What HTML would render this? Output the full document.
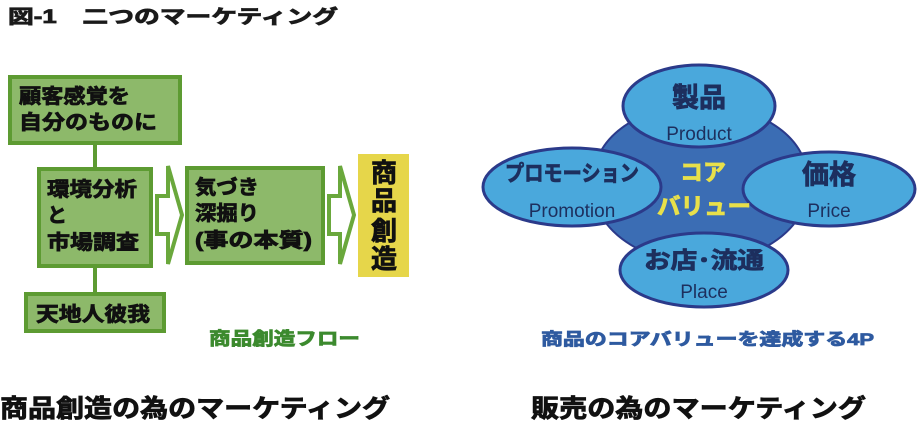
<!DOCTYPE html>
<html><head><meta charset="utf-8"><style>
html,body{margin:0;padding:0;background:#fff;}
svg{display:block;}
text{font-family:"Liberation Sans","Noto Sans CJK JP",sans-serif;font-weight:bold;}
.th{stroke:currentColor;stroke-width:0.8;}
</style></head><body>
<svg width="918" height="422" viewBox="0 0 918 422" xmlns="http://www.w3.org/2000/svg">
<text class="th" x="8" y="23" font-size="19" fill="#1a1a1a" style="color:#1a1a1a" textLength="330" lengthAdjust="spacingAndGlyphs">図-1　二つのマーケティング</text>

<line x1="95" y1="143" x2="95" y2="296" stroke="#5d9b32" stroke-width="4"/>
<rect x="10" y="77" width="170" height="66" fill="#8db96a" stroke="#5d9b32" stroke-width="4"/>
<g class="th" style="color:#111" fill="#111">
<text x="19" y="103" font-size="20" textLength="111" lengthAdjust="spacingAndGlyphs">顧客感覚を</text>
<text x="19" y="129" font-size="20" textLength="138" lengthAdjust="spacingAndGlyphs">自分のものに</text>
</g>

<rect x="39" y="169" width="112" height="97" fill="#8db96a" stroke="#5d9b32" stroke-width="4"/>
<g class="th" style="color:#111" fill="#111">
<text x="47" y="196" font-size="20" textLength="90" lengthAdjust="spacingAndGlyphs">環境分析</text>
<text x="47" y="222" font-size="20">と</text>
<text x="47" y="249" font-size="20" textLength="92" lengthAdjust="spacingAndGlyphs">市場調査</text>
</g>

<rect x="26" y="294" width="138" height="37" fill="#8db96a" stroke="#5d9b32" stroke-width="4"/>
<text class="th" style="color:#111" x="36" y="321" font-size="20" fill="#111" textLength="114" lengthAdjust="spacingAndGlyphs">天地人彼我</text>

<polygon points="157,196 168,196 168,166 182,215 168,264 168,234 157,234" fill="#fff" stroke="#6aa83c" stroke-width="4"/>
<rect x="187" y="168" width="136" height="95" fill="#8db96a" stroke="#5d9b32" stroke-width="4"/>
<g class="th" style="color:#111" fill="#111">
<text x="195" y="194" font-size="20" textLength="64" lengthAdjust="spacingAndGlyphs">気づき</text>
<text x="195" y="220" font-size="20" textLength="64" lengthAdjust="spacingAndGlyphs">深掘り</text>
<text x="195" y="247" font-size="20" textLength="117" lengthAdjust="spacingAndGlyphs">(事の本質)</text>
</g>

<polygon points="329,196 340,196 340,166 354,215 340,264 340,234 329,234" fill="#fff" stroke="#6aa83c" stroke-width="4"/>
<rect x="358" y="154" width="51" height="123" fill="#e6d64a"/>
<g class="th" style="color:#111" font-size="26" fill="#111" text-anchor="middle">
<text x="384" y="182">商</text>
<text x="384" y="210">品</text>
<text x="384" y="240">創</text>
<text x="384" y="268">造</text>
</g>
<text class="th" style="color:#3c8a2e" x="209" y="345" font-size="18" fill="#3c8a2e" textLength="151" lengthAdjust="spacingAndGlyphs">商品創造フロー</text>

<path d="M640,117 L760,117 Q808,140 808,183 Q808,226 760,250 L640,250 Q593,226 593,183 Q593,140 640,117 Z" fill="#3b6db4" stroke="#2b3a8a" stroke-width="2"/>
<g fill="#4aa8dc" stroke="#2b3a8a" stroke-width="3">
<ellipse cx="699" cy="106" rx="76" ry="41"/>
<ellipse cx="572" cy="187" rx="89" ry="39"/>
<ellipse cx="829" cy="189" rx="86" ry="37"/>
<ellipse cx="704" cy="270" rx="84" ry="37"/>
</g>
<g fill="#1d2f5e" text-anchor="middle">
<text class="th" style="color:#1d2f5e" x="699" y="107" font-size="27">製品</text>
<text x="699" y="140" font-size="19" style="font-weight:normal">Product</text>
<text class="th" style="color:#1d2f5e" x="572" y="181" font-size="22" textLength="134" lengthAdjust="spacingAndGlyphs">プロモーション</text>
<text x="572" y="217" font-size="19" style="font-weight:normal">Promotion</text>
<text class="th" style="color:#1d2f5e" x="829" y="184" font-size="27">価格</text>
<text x="829" y="217" font-size="19" style="font-weight:normal">Price</text>
<text class="th" style="color:#1d2f5e" x="704" y="268" font-size="23" textLength="120" lengthAdjust="spacingAndGlyphs">お店･流通</text>
<text x="704" y="298" font-size="19" style="font-weight:normal">Place</text>
</g>
<g class="th" style="color:#e8e04a" fill="#e8e04a" text-anchor="middle">
<text x="703" y="180" font-size="23">コア</text>
<text x="704" y="214" font-size="23" textLength="94" lengthAdjust="spacingAndGlyphs">バリュー</text>
</g>
<text class="th" style="color:#2e5aa0" x="541" y="345" font-size="17" fill="#2e5aa0" textLength="333" lengthAdjust="spacingAndGlyphs">商品のコアバリューを達成する4P</text>

<text class="th" style="color:#111" x="0" y="417" font-size="25" fill="#111" textLength="390" lengthAdjust="spacingAndGlyphs">商品創造の為のマーケティング</text>
<text class="th" style="color:#111" x="531" y="417" font-size="25" fill="#111" textLength="335" lengthAdjust="spacingAndGlyphs">販売の為のマーケティング</text>
</svg>
</body></html>
